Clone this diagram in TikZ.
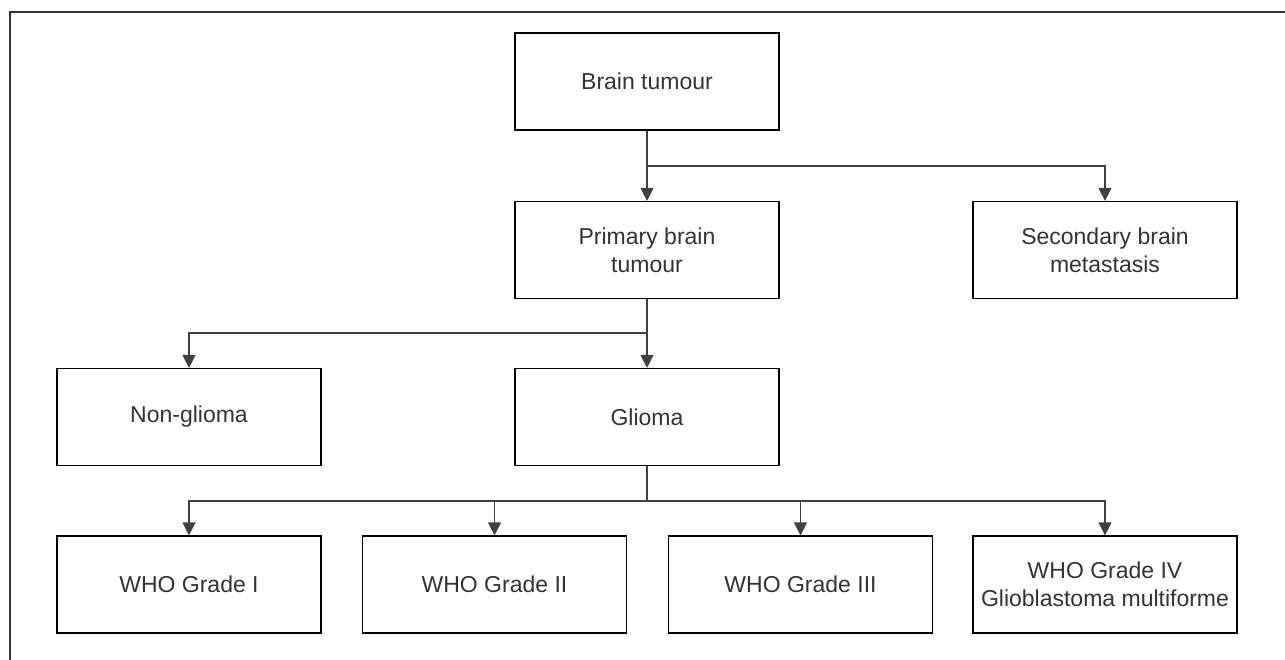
\documentclass[tikz,border=0pt]{standalone}
\usepackage{fontspec}
\setmainfont{Liberation Sans}
\usetikzlibrary{arrows.meta}
\begin{document}
\begin{tikzpicture}[x=1pt,y=-1pt,
  box/.style={draw=black, line width=1.2pt, minimum width=264pt, minimum height=97pt,
    inner sep=2pt, align=center, font=\fontsize{23}{28}\selectfont, text=black!80},
  conn/.style={draw=black!75, line width=1.3pt},
  arr/.style={conn, -{Triangle[width=13pt,length=13pt]}}]
\useasboundingbox (0,0) rectangle (1285,660);
\coordinate (fbl) at (10,662);
\coordinate (ftl) at (10,12);
\coordinate (ftr) at (1287,12);
\draw[line width=1.5pt, black!80] (fbl) -- (ftl) -- (ftr);

\node[box] (bt) at (647,81.5) {Brain tumour};
\node[box] (pbt) at (647,250) {Primary brain\\tumour};
\node[box] (sbm) at (1105,250) {Secondary brain\\metastasis};
\node[box] (ng) at (189,417) {Non-glioma};
\node[box] (gl) at (647,417) {Glioma};
\node[box] (w1) at (189,584.5) {WHO Grade I};
\node[box] (w2) at (494.5,584.5) {WHO Grade II};
\node[box] (w3) at (800.5,584.5) {WHO Grade III};
\node[box] (w4) at (1105,584.5) {WHO Grade IV\\Glioblastoma multiforme};

\coordinate (j1) at (647,166);
\coordinate (j2) at (647,333);
\coordinate (j3) at (647,501);

\draw[conn] (bt.south) -- (j1);
\draw[arr] (j1) -- (pbt.north);
\draw[arr] (j1) -| (sbm.north);

\draw[conn] (pbt.south) -- (j2);
\draw[arr] (j2) -- (gl.north);
\draw[arr] (j2) -| (ng.north);

\draw[conn] (gl.south) -- (j3);
\draw[arr] (j3) -| (w1.north);
\draw[arr] (j3) -| (w2.north);
\draw[arr] (j3) -| (w3.north);
\draw[arr] (j3) -| (w4.north);
\end{tikzpicture}
\end{document}
